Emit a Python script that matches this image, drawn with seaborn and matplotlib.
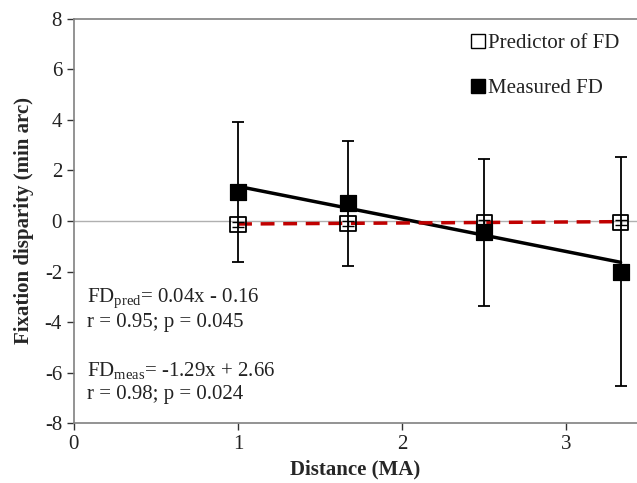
import matplotlib
matplotlib.use("Agg")
import matplotlib.pyplot as plt
import seaborn as sns
import numpy as np
import pandas as pd
from matplotlib.lines import Line2D

distance = [1.0, 1.67, 2.5, 3.33]
measured = [1.15, 0.70, -0.45, -2.00]
measured_err = [2.77, 2.47, 2.90, 4.52]
predictor = [-0.14, -0.11, -0.07, -0.05]
predictor_err = [0.10, 0.10, 0.10, 0.10]
pred_fit = (0.04, -0.16)
meas_fit = (-1.29, 2.66)

sns.set_theme(style="white")
plt.rcParams['font.family'] = ['Liberation Serif', 'DejaVu Serif']
plt.rcParams['mathtext.fontset'] = 'custom'
plt.rcParams['mathtext.rm'] = 'Liberation Serif'
plt.rcParams['mathtext.it'] = 'Liberation Serif:italic'
plt.rcParams['axes.unicode_minus'] = False

fig = plt.figure(figsize=(6.37, 4.83), dpi=100)
ax = fig.add_axes([0.116, 0.124, 0.884, 0.837])

df = pd.DataFrame({"distance": distance, "measured": measured, "predictor": predictor})
xs = np.array([distance[0], distance[-1]])

ax.axhline(0, color="#b0b0b0", lw=1.0, zorder=1)

# error bars
ax.errorbar(distance, measured, yerr=measured_err, fmt="none", ecolor="black",
            elinewidth=1.3, capsize=4, capthick=1.3, zorder=2)
ax.errorbar(distance, predictor, yerr=predictor_err, fmt="none", ecolor="black",
            elinewidth=1.0, capsize=4, capthick=1.0, zorder=4)

# fit lines
sns.lineplot(x=xs, y=meas_fit[0] * xs + meas_fit[1], ax=ax, color="black", lw=2.5, zorder=3)
sns.lineplot(x=xs, y=pred_fit[0] * xs + pred_fit[1], ax=ax, color="#c00000", lw=2.5,
             linestyle=(0, (4, 2.5)), zorder=3)

sns.scatterplot(data=df, x="distance", y="measured", ax=ax, marker="s", s=120,
                color="black", edgecolor="black", zorder=5)
sns.scatterplot(data=df, x="distance", y="predictor", ax=ax, marker="s", s=120,
                facecolor="none", edgecolor="black", linewidth=1.3, zorder=5)

ax.set_xlim(0, 3.43)
ax.set_ylim(-8, 8)
ax.set_xticks([0, 1, 2, 3])
ax.set_yticks(np.arange(-8, 9, 2))
ax.tick_params(axis="both", labelsize=15, colors="#333333", length=5, direction="out",
               left=True, bottom=True, width=1)
for lbl in ax.get_xticklabels() + ax.get_yticklabels():
    lbl.set_color("#222222")
for s in ["left", "bottom", "top"]:
    ax.spines[s].set_color("#808080")
    ax.spines[s].set_linewidth(1.2)
ax.spines["right"].set_visible(False)

ax.set_xlabel("Distance (MA)", fontsize=15, fontweight="bold", labelpad=4)
ax.set_ylabel("Fixation disparity (min arc)", fontsize=15, fontweight="bold", labelpad=8)

txt_kw = dict(transform=ax.transData, fontsize=15, color="#222222", va="center", ha="left")
ax.text(0.08, -3.05, r"FD$_{\mathrm{pred}}$= 0.04x - 0.16", **txt_kw)
ax.text(0.08, -4.0, "r = 0.95; p = 0.045", **txt_kw)
ax.text(0.08, -5.9, r"FD$_{\mathrm{meas}}$= -1.29x + 2.66", **txt_kw)
ax.text(0.08, -6.85, "r = 0.98; p = 0.024", **txt_kw)

handles = [
    Line2D([], [], marker="s", ls="none", markersize=10, markerfacecolor="white",
           markeredgecolor="black", markeredgewidth=1.0, label="Predictor of FD"),
    Line2D([], [], marker="s", ls="none", markersize=10, markerfacecolor="black",
           markeredgecolor="black", label="Measured FD"),
]
leg = ax.legend(handles=handles, loc="upper left", bbox_to_anchor=(0.69, 0.985),
                frameon=False, fontsize=15, handlelength=0.7, handletextpad=0.15,
                labelspacing=1.25, borderaxespad=0)
for t in leg.get_texts():
    t.set_color("#222222")

fig.savefig("out.png", dpi=100)
